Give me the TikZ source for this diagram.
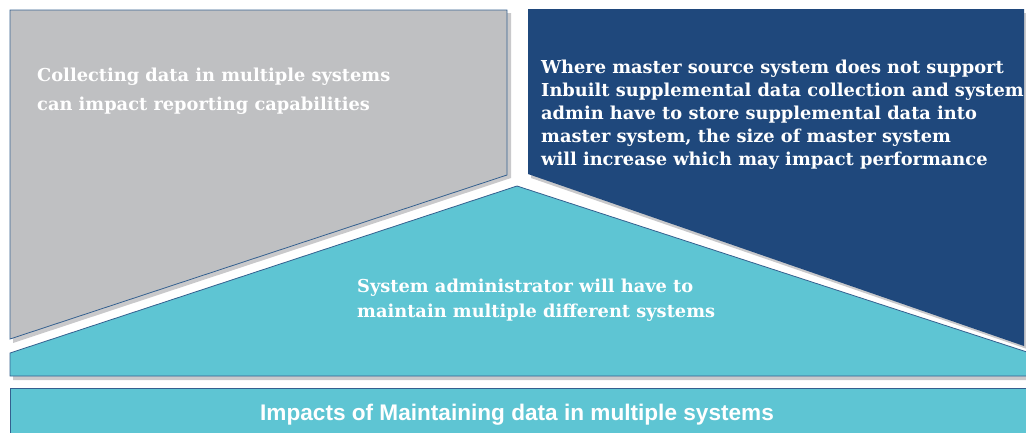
\documentclass[tikz,border=0pt]{standalone}
\usepackage{fontspec}
\setmainfont{DejaVu Serif}
\newfontfamily\barfont{Liberation Sans}
\definecolor{grayfill}{HTML}{BFC0C2}
\definecolor{cyanfill}{HTML}{5EC5D3}
\definecolor{bluefill}{HTML}{1F487C}
\definecolor{edgeblue}{HTML}{35608F}
\definecolor{shadowgray}{HTML}{9C9DA0}
\begin{document}
\begin{tikzpicture}[x=1pt,y=-1pt,
  panel/.style={draw=edgeblue,line width=0.8pt,line join=miter},
  shade/.style={fill=shadowgray,opacity=0.55},
  paneltext/.style={text=white,font=\bfseries,align=left,inner sep=0pt,anchor=north west}]
\useasboundingbox (0,0) rectangle (1026,432);
% shadows
\fill[shade] (13,13) -- (511,13) -- (511,178) -- (13,343) -- cycle;
\fill[shade] (13,356) -- (521,189) -- (1030,356) -- (1030,380) -- (13,380) -- cycle;
\fill[shade] (531,13) -- (1030,13) -- (1030,350) -- (531,178) -- cycle;
% gray panel
\path[panel,fill=grayfill] (10,10) -- (507,10) -- (507,175) -- (10,339) -- cycle;
% blue panel
\path[fill=bluefill] (528,9) -- (1024,9) -- (1024,346) -- (528,174) -- cycle;
% cyan panel
\path[panel,fill=cyanfill] (10,376) -- (10,353) -- (517,186) -- (1030,353) -- (1030,376) -- cycle;
% bottom bar
\path[panel,fill=cyanfill] (1030,388) -- (10,388) -- (10,440) -- (1030,440);
% texts
\node[paneltext,font=\bfseries\fontsize{17.8}{29}\selectfont] (graytext) at (37,67.5)
  {Collecting data in multiple systems\\can impact reporting capabilities};
\node[paneltext,font=\bfseries\fontsize{17.8}{23}\selectfont] (bluetext) at (541,59.5)
  {Where master source system does not support\\Inbuilt supplemental data collection and system\\admin have to store supplemental data into\\master system, the size of master system\\will increase which may impact performance};
\node[paneltext,font=\bfseries\fontsize{17.8}{25}\selectfont] (cyantext) at (357,278.5)
  {System administrator will have to\\maintain multiple different systems};
\node[text=white,inner sep=0pt,anchor=base,font=\barfont\bfseries\fontsize{22.6}{26}\selectfont] (bartext) at (517,420)
  {Impacts of Maintaining data in multiple systems};
\end{tikzpicture}
\end{document}
